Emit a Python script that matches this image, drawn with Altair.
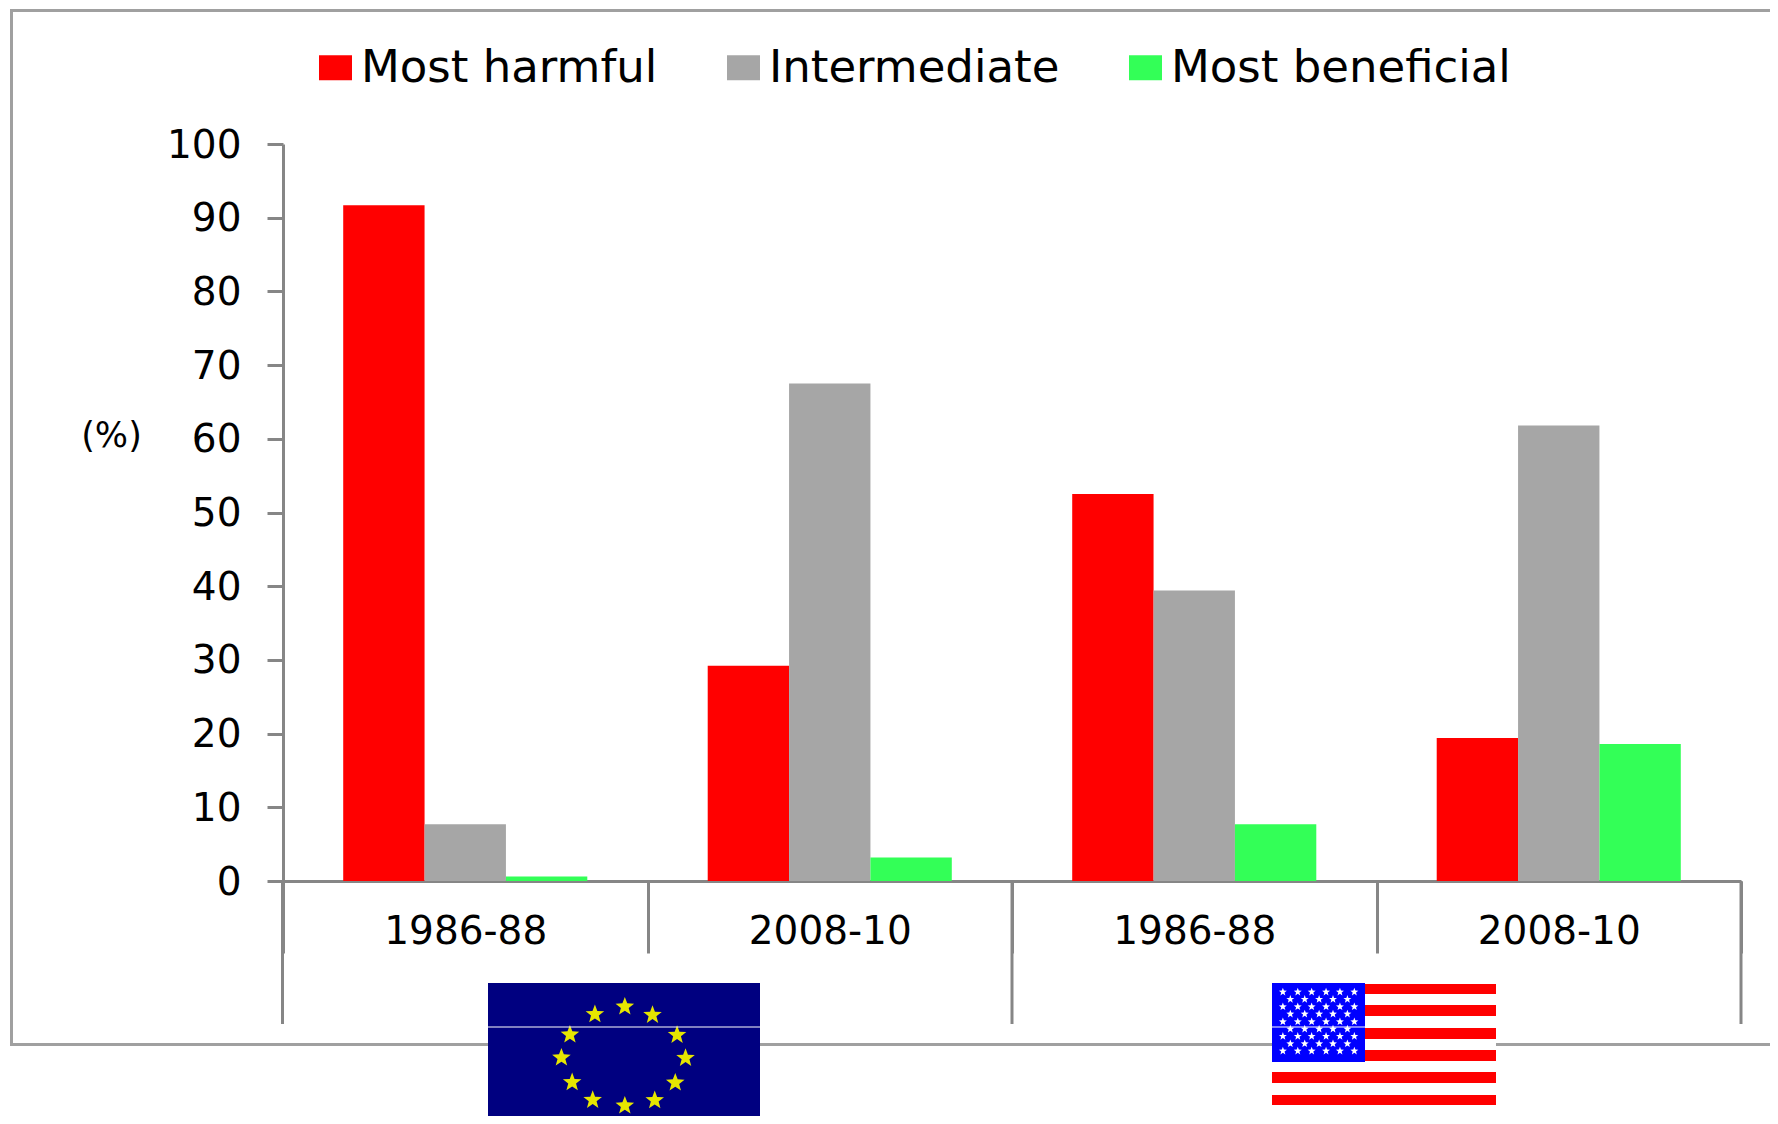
import math
import altair as alt
import pandas as pd

categories = ["EU|1986-88", "EU|2008-10", "US|1986-88", "US|2008-10"]
series = ["Most harmful", "Intermediate", "Most beneficial"]
harmful = [91.7, 29.2, 52.5, 19.4]
intermediate = [7.7, 67.5, 39.4, 61.8]
beneficial = [0.6, 3.2, 7.7, 18.6]
colors = ["#ff0000", "#a6a6a6", "#33ff57"]
y_ticks = list(range(0, 101, 10))

OX, OY = 283, 144   # page position of the plot origin
W, H = 1458, 737
PAGE_W, PAGE_H = 1778, 1124

rows = []
for name, vals in zip(series, [harmful, intermediate, beneficial]):
    for c, v in zip(categories, vals):
        rows.append({"cat": c, "series": name, "value": v})
df = pd.DataFrame(rows)

FONT = "DejaVu Sans"
AXC = "#868686"

def R(x0, x1, y0, y1, col):
    return {"x": x0 - OX, "x2": x1 - OX, "y": y0 - OY, "y2": y1 - OY, "c": col}

back = [
    R(10, 1778, 9, 12, "#a0a0a0"),
    R(10, 13, 9, 1046, "#a0a0a0"),
    R(10, 1778, 1043, 1046, "#a0a0a0"),
    R(281, 284, 881, 1024, AXC),
    R(1010.5, 1013.5, 881, 1024, AXC),
    R(1739.5, 1742.5, 881, 1024, AXC),
    R(488, 760, 983, 1124, "#000080"),
    R(1272, 1496, 983, 1124, "#ffffff"),
]
for a, b in [(984, 994), (1005, 1016), (1028, 1039), (1050, 1061), (1072, 1083), (1095, 1105), (1117, 1124)]:
    back.append(R(1272, 1496, a, b, "#ff0000"))
back.append(R(1272, 1365, 983, 1062, "#0000ff"))
front = [R(488, 760, 1026.5, 1027.5, "#ffffff"), R(1272, 1365, 1026.5, 1027.5, "#ffffff")]

eu_star_x = [862, 795, 924, 739, 979, 720, 998, 744, 975, 790, 929, 862]
eu_star_y = [680, 703, 705, 764, 765, 833, 834, 907, 908, 960, 961, 977]
eu_stars = pd.DataFrame({"x": [v / 2.24 + 240 - OX for v in eu_star_x],
                         "y": [v / 3 + 780 - OY for v in eu_star_y]})
us_rows_y = [992, 999.3, 1006.7, 1014, 1021.7, 1029, 1036.3, 1043.7, 1051]
us_x_a = [570, 600, 628, 657, 685, 714]
us_x_b = [585, 614, 643, 671, 700]
us_pts = []
for i, yy in enumerate(us_rows_y):
    for xx in (us_x_a if i % 2 == 0 else us_x_b):
        us_pts.append({"x": xx / 2.015 + 1000 - OX, "y": yy - OY})
us_stars = pd.DataFrame(us_pts)

star = []
for i in range(10):
    r = 1.0 if i % 2 == 0 else 0.42
    a = -math.pi / 2 + i * math.pi / 5
    star.append(f"{r*math.cos(a):.3f},{r*math.sin(a):.3f}")
STAR = "M" + "L".join(star) + "Z"

def rects(data):
    return alt.Chart(pd.DataFrame(data)).mark_rect().encode(
        x=alt.X("x:Q", scale=None, axis=None),
        x2="x2:Q",
        y=alt.Y("y:Q", scale=None, axis=None),
        y2="y2:Q",
        color=alt.Color("c:N", scale=None, legend=None),
    )

def stars(data, col, size):
    return alt.Chart(data).mark_point(shape=STAR, filled=True, fill=col, opacity=1, size=size, strokeWidth=0).encode(
        x=alt.X("x:Q", scale=None, axis=None),
        y=alt.Y("y:Q", scale=None, axis=None),
    )

bars = alt.Chart(df).mark_bar(strokeWidth=0).encode(
    x=alt.X("cat:N", sort=categories,
            scale=alt.Scale(domain=categories, padding=0),
            axis=alt.Axis(title=None, labelAngle=0, tickBand="extent", tickSize=72, tickWidth=3,
                          tickColor=AXC, domainColor=AXC, domainWidth=3,
                          labelExpr="slice(datum.label, 3)", labelFont=FONT, labelFontSize=39,
                          labelColor="#000000", labelPadding=-41, labelBaseline="top")),
    xOffset=alt.XOffset("series:N", sort=series,
                        scale=alt.Scale(domain=series, paddingInner=0, paddingOuter=0.74)),
    y=alt.Y("value:Q", scale=alt.Scale(domain=[0, 100], nice=False),
            axis=alt.Axis(values=y_ticks, grid=False, tickSize=16, tickWidth=3, tickColor=AXC,
                          domainColor=AXC, domainWidth=3, labelFont=FONT, labelFontSize=39,
                          labelColor="#000000", labelPadding=26, labelOffset=1,
                          title="(%)", titleAngle=0, titleFont=FONT, titleFontSize=35,
                          titleFontWeight="normal", titleColor="#000000", titleAlign="center",
                          titleBaseline="middle", titleX=-172, titleY=291)),
    color=alt.Color("series:N", sort=series,
                    scale=alt.Scale(domain=series, range=colors),
                    legend=alt.Legend(title=None, orient="none", legendX=30, legendY=-99,
                                      direction="horizontal", columns=3,
                                      symbolType="M-1.32,-1H1.32V1H-1.32Z", symbolSize=625,
                                      symbolStrokeWidth=0, labelFont=FONT, labelFontSize=45,
                                      labelColor="#000000", labelOffset=3, columnPadding=63,
                                      labelLimit=400)),
)

chart = alt.layer(
    rects(back),
    stars(eu_stars, "#e6e600", 380),
    stars(us_stars, "#ffffff", 70),
    rects(front),
    bars,
).resolve_scale(x="independent", y="independent", color="independent").properties(
    width=W, height=H,
    background="#ffffff",
    autosize=alt.AutoSizeParams(type="none"),
    padding={"left": OX - 8, "top": OY - 8, "right": PAGE_W - 16 - (OX - 8) - W, "bottom": PAGE_H - 16 - (OY - 8) - H},
).configure_view(stroke=None)

chart.save("out.html", embed_options={"renderer": "svg", "actions": False})
